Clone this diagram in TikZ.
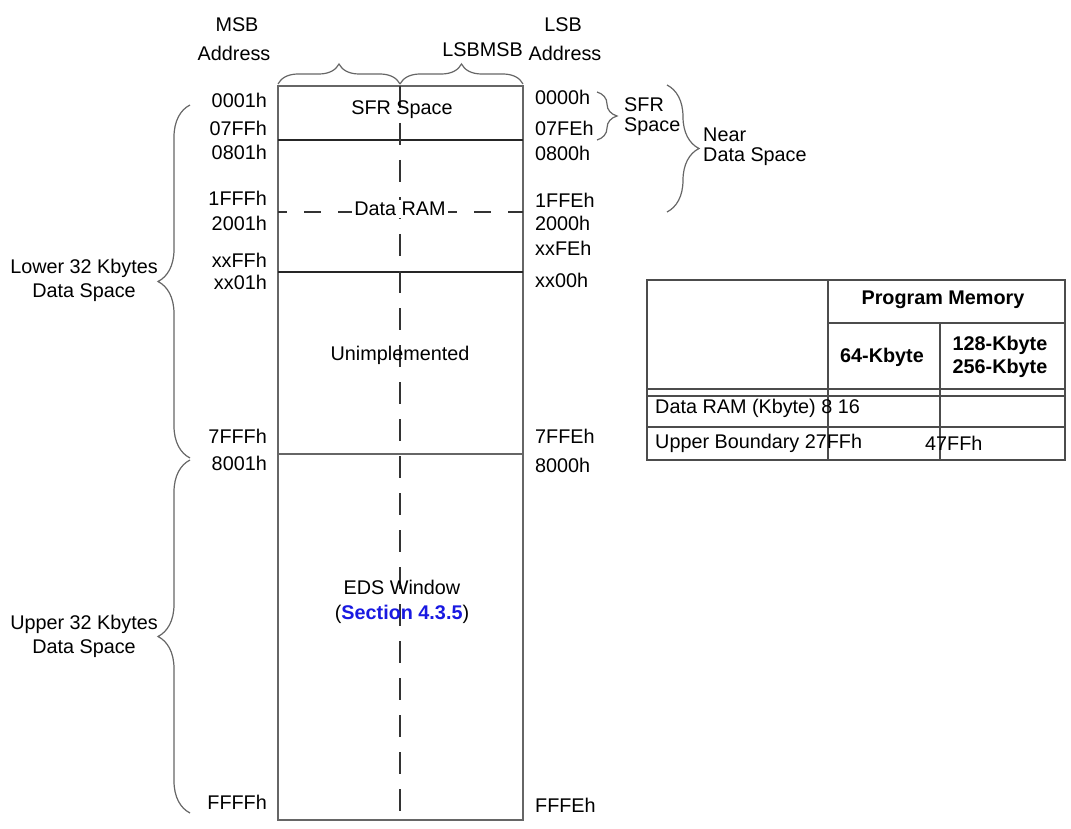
\documentclass[tikz,border=0pt]{standalone}
\usepackage{fontspec}
\setmainfont{Liberation Sans}
\usetikzlibrary{decorations.pathreplacing,positioning}
\definecolor{linkblue}{RGB}{25,25,225}

\begin{document}
\begin{tikzpicture}[x=1pt,y=-1pt,
  txt/.style={font=\fontsize{19.8}{24}\selectfont,inner sep=0pt,align=center},
  addrL/.style={txt,anchor=east},
  addrR/.style={txt,anchor=west},
  frame/.style={draw=black!60,line width=1.3pt},
  sep/.style={draw=black!85,line width=1.3pt},
  mid/.style={draw=black!80,line width=1.2pt,dash pattern=on 22pt off 15pt},
  half/.style={draw=black!80,line width=1.2pt,dash pattern=on 17pt off 17pt,dash phase=8pt},
  brc/.style={decorate,decoration={brace,amplitude=#1},draw=black!60,line width=1.2pt},
  tbl/.style={draw=black!70,line width=1.2pt}]
  \useasboundingbox (0,0) rectangle (1071,829);

  % memory map
  \draw[frame] (278,86) rectangle (523,820);
  \draw[sep] (278,140) -- (523,140);
  \draw[sep] (278,272) -- (523,272);
  \draw[frame] (278,454) -- (523,454);
  \draw[half] (278,212) -- (523,212);
  \draw[mid] (400,86) -- (400,820);

  \node[txt] (sfr) at (402,110) {SFR Space};
  \node[txt,fill=white,inner sep=2pt] (ram) at (400,209) {Data RAM};
  \node[txt] (unimp) at (400,355) {Unimplemented};
  \node[txt,font=\fontsize{19.8}{25}\selectfont] (eds) at (402,602)
    {EDS Window\\(\textcolor{linkblue}{\bfseries Section 4.3.5})};

  % column headers
  \node[txt] (msb) at (237,25) {MSB};
  \node[txt] (msbaddr) at (234,53) {Address};
  \node[txt] (lsb) at (563,25) {LSB};
  \node[txt] (lsbaddr) at (565,53) {Address};
  \node[txt,anchor=east] (bytes) at (523,50) {LSBMSB};
  \draw[brc=20pt] (278,84) -- (400,84);
  \draw[brc=20pt] (400,84) -- (523,84);

  % addresses
  \node[addrL] (a1) at (267,100) {0001h};
  \node[addrL] (a2) at (267,128) {07FFh};
  \node[addrL] (a3) at (267,152) {0801h};
  \node[addrL] (a4) at (267,198) {1FFFh};
  \node[addrL] (a5) at (267,223) {2001h};
  \node[addrL] (a6) at (267,260) {xxFFh};
  \node[addrL] (a7) at (267,282) {xx01h};
  \node[addrL] (a8) at (267,436) {7FFFh};
  \node[addrL] (a9) at (267,463) {8001h};
  \node[addrL] (a10) at (267,802) {FFFFh};

  \node[addrR] (b1) at (535,97) {0000h};
  \node[addrR] (b2) at (535,128) {07FEh};
  \node[addrR] (b3) at (535,153) {0800h};
  \node[addrR] (b4) at (535,200) {1FFEh};
  \node[addrR] (b5) at (535,223) {2000h};
  \node[addrR] (b6) at (535,248) {xxFEh};
  \node[addrR] (b7) at (535,280) {xx00h};
  \node[addrR] (b8) at (535,436) {7FFEh};
  \node[addrR] (b9) at (535,465) {8000h};
  \node[addrR] (b10) at (535,805) {FFFEh};

  % spaces
  \draw[brc=32pt] (190,458) -- (190,105);
  \node[txt] (lower) at (84,280) {Lower 32 Kbytes\\Data Space};
  \draw[brc=32pt] (190,813) -- (190,460);
  \node[txt] (upper) at (84,636) {Upper 32 Kbytes\\Data Space};
  \draw[brc=20pt] (597,92) -- (597,140);
  \node[txt,anchor=west,align=left,font=\fontsize{19.8}{20}\selectfont] (sfrsp) at (624,117) {SFR\\Space};
  \draw[brc=32pt] (667,85) -- (667,212);
  \node[txt,anchor=west,align=left,font=\fontsize{19.8}{20}\selectfont] (near) at (703,147) {Near\\Data Space};

  % table
  \draw[tbl] (647,280) rectangle (1065,460);
  \draw[tbl] (828,280) -- (828,460);
  \draw[tbl] (940,323) -- (940,460);
  \draw[tbl] (828,323) -- (1065,323);
  \draw[tbl] (647,389) -- (1065,389);
  \draw[tbl] (647,396) -- (1065,396);
  \draw[tbl] (647,427) -- (1065,427);
  \node[txt,font=\bfseries\fontsize{19.8}{24}\selectfont] (pm) at (943,300) {Program Memory};
  \node[txt,font=\bfseries\fontsize{19.8}{24}\selectfont] (k64) at (882,357) {64-Kbyte};
  \node[txt,font=\bfseries\fontsize{19.8}{23}\selectfont] (k128) at (1000,357) {128-Kbyte\\256-Kbyte};
  \node[addrR] (row1) at (655,408) {Data RAM (Kbyte) 8 16};
  \node[addrR] (row2) at (655,443) {Upper Boundary 27FFh};
  \node[addrR] (row2b) at (925,443) {47FFh};
\end{tikzpicture}
\end{document}
